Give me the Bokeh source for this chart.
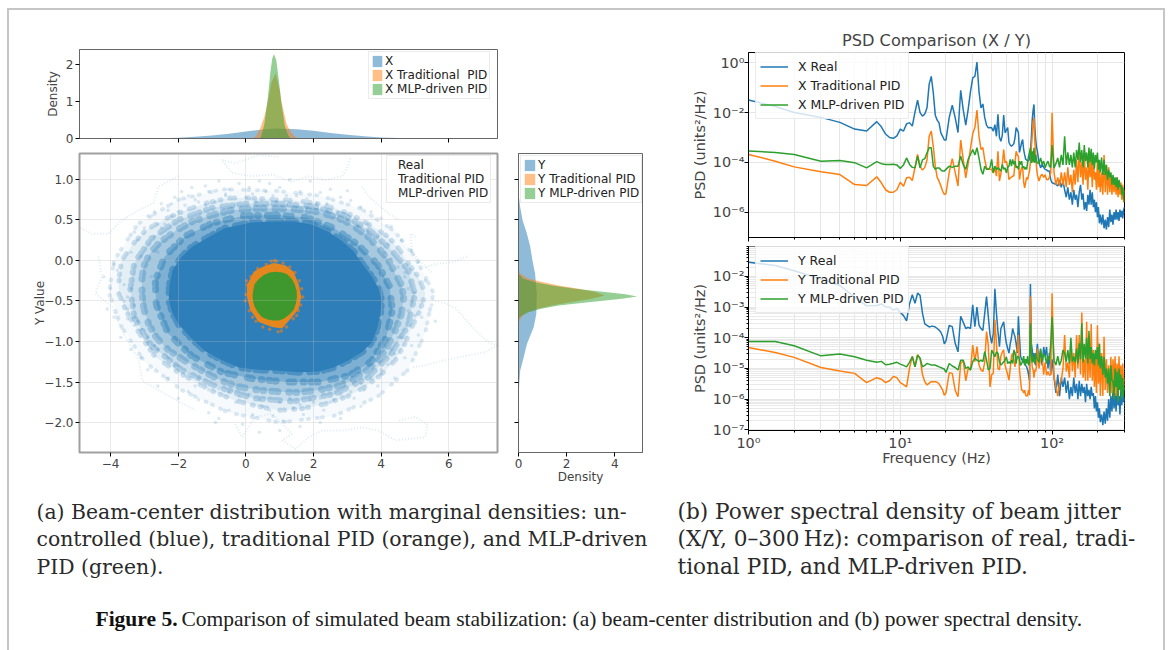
from bokeh.plotting import figure
from bokeh.layouts import column, row
from bokeh.models import (Range1d, FixedTicker, CustomJSTickFormatter, Legend, LegendItem)
from bokeh.core.properties import value
from bokeh.embed import file_html
from bokeh.resources import INLINE

BLUE, ORANGE, GREEN = "#1f77b4", "#ff7f0e", "#2ca02c"
FONT = "DejaVu Sans"

# ---------- marginal densities ----------
top_x_real = [-4, -3, -2.5, -2, -1.5, -1, -0.5, 0, 0.5, 0.9, 1.5, 2, 2.5, 3, 3.5, 4, 4.5, 5, 6]
top_d_real = [0, 0.002, 0.008, 0.02, 0.045, 0.08, 0.13, 0.19, 0.24, 0.27, 0.25, 0.21, 0.15, 0.1, 0.06, 0.03, 0.012, 0.004, 0]
top_x_trad = [0.19, 0.3, 0.42, 0.55, 0.65, 0.75, 0.88, 1.0, 1.05, 1.15, 1.2, 1.25, 1.35, 1.45, 1.57]
top_d_trad = [0, 0.06, 0.26, 0.6, 1.0, 1.5, 1.75, 1.3, 1.0, 0.6, 0.4, 0.3, 0.15, 0.05, 0]
top_x_mlp = [0.39, 0.45, 0.55, 0.65, 0.72, 0.78, 0.83, 0.9, 0.97, 1.05, 1.15, 1.25, 1.33]
top_d_mlp = [0, 0.05, 0.4, 1.1, 1.75, 2.15, 2.27, 2.1, 1.6, 0.95, 0.35, 0.08, 0]

right_y_real = [0.825, 0.66, 0.495, 0.33, 0.165, 0, -0.165, -0.41, -0.66, -0.825, -1.03, -1.2, -1.36, -1.53, -1.73]
right_d_real = [0, 0.07, 0.17, 0.35, 0.49, 0.58, 0.69, 0.76, 0.74, 0.63, 0.35, 0.21, 0.07, 0.03, 0]
right_y_trad = [-0.1, -0.165, -0.227, -0.268, -0.31, -0.35, -0.39, -0.432, -0.473, -0.515, -0.556, -0.6, -0.64, -0.7, -0.775]
right_d_trad = [0, 0.07, 0.42, 1.04, 1.67, 2.5, 3.19, 3.58, 3.05, 2.15, 1.39, 0.76, 0.35, 0.11, 0]
right_y_mlp = [-0.165, -0.227, -0.268, -0.31, -0.35, -0.39, -0.418, -0.445, -0.473, -0.515, -0.556, -0.6, -0.64, -0.68, -0.72]
right_d_mlp = [0, 0.2, 0.7, 1.39, 2.36, 3.6, 4.44, 4.93, 4.3, 2.9, 1.67, 0.9, 0.42, 0.14, 0]

# ---------- beam-centre cloud: density contours ----------
ring3_x = [0.9, 2.2, 3.4, 4.4, 5.0, 5.55, 5.3, 4.8, 3.9, 2.6, 1.0, -0.5, -1.9, -3.0, -3.7, -4.05, -3.9, -3.2, -2.0, -0.7]
ring3_y = [0.86, 0.8, 0.64, 0.36, 0.05, -0.4, -0.9, -1.35, -1.68, -1.92, -2.0, -1.88, -1.6, -1.25, -0.8, -0.4, 0.0, 0.45, 0.75, 0.88]
outer_x = [0.87, 1.5, 2.15, 2.75, 3.24, 3.75, 4.22, 4.55, 4.81, 5.1, 5.31, 5.15, 4.91, 4.7, 4.42, 4.0, 3.53, 3.0, 2.35, 1.65,
           0.97, 0.35, -0.31, -0.95, -1.59, -2.15, -2.68, -3.0, -3.27, -3.55, -3.76, -3.75, -3.67, -3.35, -2.97, -2.4, -1.79, -1.15, -0.5, 0.2]
outer_y = [0.75, 0.74, 0.70, 0.63, 0.54, 0.42, 0.29, 0.13, -0.04, -0.2, -0.41, -0.62, -0.82, -1.03, -1.23, -1.41, -1.56, -1.68, -1.77, -1.83,
           -1.85, -1.8, -1.73, -1.62, -1.48, -1.34, -1.19, -1.0, -0.82, -0.62, -0.41, -0.2, 0, 0.2, 0.37, 0.51, 0.62, 0.71, 0.77, 0.77]
ring2_x = [0.9, 1.9, 2.9, 3.7, 4.3, 4.8, 5.0, 4.8, 4.3, 3.6, 2.6, 1.4, 0.2, -0.9, -1.9, -2.8, -3.3, -3.42, -3.3, -2.8, -2.0, -1.0, 0.0]
ring2_y = [0.7, 0.67, 0.56, 0.36, 0.13, -0.12, -0.42, -0.8, -1.15, -1.45, -1.65, -1.74, -1.7, -1.55, -1.35, -1.05, -0.7, -0.35, -0.03, 0.27, 0.5, 0.65, 0.7]
mid_x = [0.87, 1.5, 2.15, 2.7, 3.14, 3.6, 3.93, 4.22, 4.42, 4.6, 4.67, 4.6, 4.42, 4.2, 3.93, 3.55, 3.14, 2.7, 2.15, 1.55,
         0.97, 0.4, -0.21, -0.75, -1.3, -1.8, -2.28, -2.65, -2.88, -3.02, -3.07, -3.08, -3.02, -2.85, -2.58, -2.1, -1.59, -1.0, -0.41, 0.25]
mid_y = [0.64, 0.63, 0.6, 0.53, 0.44, 0.3, 0.15, 0.0, -0.16, -0.3, -0.45, -0.66, -0.86, -1.05, -1.23, -1.36, -1.48, -1.55, -1.6, -1.63,
         -1.62, -1.6, -1.56, -1.48, -1.36, -1.24, -1.11, -0.95, -0.78, -0.6, -0.41, -0.24, -0.07, 0.08, 0.21, 0.36, 0.48, 0.56, 0.62, 0.64]
ring1_x = [0.9, 1.8, 2.6, 3.3, 3.9, 4.25, 4.33, 4.15, 3.7, 3.05, 2.2, 1.2, 0.2, -0.7, -1.6, -2.3, -2.65, -2.68, -2.4, -1.8, -1.0, -0.1]
ring1_y = [0.56, 0.53, 0.4, 0.2, -0.05, -0.32, -0.62, -0.95, -1.25, -1.42, -1.5, -1.5, -1.46, -1.38, -1.18, -0.9, -0.55, -0.25, 0.05, 0.3, 0.46, 0.55]
core_x = [0.87, 1.46, 1.96, 2.45, 2.84, 3.19, 3.44, 3.73, 3.93, 4.01, 3.98, 3.88, 3.73, 3.44, 3.04, 2.6, 2.15, 1.56, 0.97, 0.38,
          -0.21, -0.71, -1.2, -1.59, -1.99, -2.18, -2.28, -2.26, -2.17, -1.91, -1.59, -1.1, -0.61, 0.18]
core_y = [0.48, 0.48, 0.44, 0.35, 0.24, 0.11, -0.04, -0.2, -0.35, -0.49, -0.66, -0.84, -1.01, -1.13, -1.23, -1.32, -1.37, -1.38, -1.36, -1.35,
          -1.32, -1.23, -1.12, -0.97, -0.79, -0.64, -0.49, -0.31, -0.12, 0.04, 0.17, 0.29, 0.4, 0.47]
trad_x = [0.82, 1.17, 1.41, 1.56, 1.64, 1.56, 1.36, 1.07, 0.77, 0.38, 0.13, 0.03, 0.03, 0.23, 0.48]
trad_y = [-0.03, -0.06, -0.14, -0.29, -0.45, -0.6, -0.7, -0.84, -0.82, -0.76, -0.61, -0.45, -0.31, -0.14, -0.08]
mlp_x = [0.87, 1.08, 1.22, 1.36, 1.44, 1.5, 1.51, 1.48, 1.41, 1.28, 1.12, 0.98, 0.82, 0.64, 0.48, 0.35, 0.26, 0.21, 0.2, 0.22, 0.26, 0.38, 0.53, 0.7]
mlp_y = [-0.14, -0.15, -0.17, -0.23, -0.29, -0.37, -0.45, -0.53, -0.61, -0.67, -0.72, -0.74, -0.74, -0.73, -0.70, -0.64, -0.57, -0.5, -0.43, -0.36, -0.29, -0.23, -0.18, -0.15]

halo_x = [-3.6, -3.4, -3.9, -3.2, -3.0, -3.5, -2.9, -2.7, -3.3, -2.5,
          -2.3, -2.6, -2.1, -1.9, -2.2, -1.6, -1.4, -1.7, -1.1, -0.8,
          -1.2, -0.5, -0.2, -0.6, 0.1, 0.4, 0.2, 0.7, 1.0, 0.8,
          1.3, 1.6, 1.2, 1.9, 2.2, 1.8, 2.5, 2.8, 2.4, 3.1,
          3.4, 3.0, 3.7, 4.0, 3.6, 4.3, 4.6, 4.2, 4.9, 5.1,
          4.7, 5.3, 5.0, 5.5, 5.2, 4.8, 5.6, 5.1, 4.9, 4.5,
          4.7, 4.3, 4.0, 4.4, 3.8, 3.5, 3.9, 3.2, 2.9, 3.4,
          2.6, 2.3, 2.8, 2.0, 1.7, 2.2, 1.4, 1.1, 1.6, 0.8,
          0.5, 1.0, 0.2, -0.1, 0.4, -0.5, -0.8, -0.3, -1.1, -1.4,
          -0.9, -1.7, -2.0, -1.5, -2.3, -2.6, -2.1, -2.9, -3.1, -2.7,
          -3.4, -3.7, -3.3, -3.9, -4.1, -3.6, -4.0, -4.2, -3.8, -3.5,
          -3.0, -2.8, -3.2, -2.6, -3.4, -2.9, -3.1, -2.5, -3.3, -2.7,
          -2.4, -2.2, -2.0, -1.8, -1.5, -1.2, -0.9, -0.6, -0.3, 0.0,
          0.3, 0.6, 0.9, 1.2, 1.5, 1.8, 2.1, 2.4, 2.7, 3.0,
          3.3, 3.6, 3.9, 4.1, 4.3, 4.5, 4.7, 4.8, 4.9, 5.0,
          4.6, 4.4, 4.2, 4.0, 3.7, 3.4, 3.1, 2.8, 2.5, 2.2,
          1.9, 1.6, 1.3, 1.0, 0.7, 0.4, 0.1, -0.2, -0.5, -0.8,
          -1.1, -1.4, -1.7, -2.0, -2.3, -2.6, -2.9, -3.1, -3.3, -3.5]
halo_y = [-0.3, 0.1, -0.05, 0.25, 0.4, -0.6, 0.55, 0.6, 0.35, 0.7,
          0.62, 0.45, 0.78, 0.85, 0.7, 0.9, 0.72, 0.8, 0.85, 0.98,
          0.92, 0.88, 0.95, 0.8, 0.9, 0.98, 0.82, 0.95, 0.9, 0.8,
          1.0, 0.85, 0.8, 0.98, 0.84, 0.76, 0.88, 0.78, 0.7, 0.74,
          0.66, 0.86, 0.6, 0.52, 0.45, 0.42, 0.25, 0.2, 0.12, -0.02,
          -0.15, -0.25, -0.4, -0.55, -0.7, -0.62, -0.75, -0.92, -1.05, -0.95,
          -1.2, -1.1, -1.35, -1.45, -1.3, -1.6, -1.55, -1.7, -1.5, -1.8,
          -1.72, -1.85, -1.95, -1.75, -1.9, -2.0, -1.82, -1.98, -2.05, -1.92,
          -1.8, -2.1, -1.9, -2.02, -2.12, -1.85, -1.95, -1.75, -1.88, -1.72,
          -2.0, -1.62, -1.7, -1.55, -1.45, -1.55, -1.3, -1.35, -1.2, -1.05,
          -1.1, -0.95, -0.8, -0.7, -0.6, -0.5, -0.35, -0.2, -0.12, -0.72,
          -0.5, -0.2, -0.75, 0.1, -0.35, -0.95, 0.05, 0.4, -0.55, 0.3,
          0.45, 0.55, 0.6, 0.68, 0.75, 0.68, 0.72, 0.82, 0.7, 0.78,
          0.72, 0.85, 0.72, 0.68, 0.8, 0.66, 0.7, 0.62, 0.6, 0.5,
          0.42, 0.35, 0.3, 0.1, 0.02, -0.08, -0.2, -0.35, -0.5, -0.68,
          -0.95, -1.15, -1.28, -1.4, -1.45, -1.52, -1.62, -1.65, -1.75, -1.7,
          -1.72, -1.78, -1.7, -1.75, -1.85, -1.72, -1.65, -1.68, -1.62, -1.58,
          -1.6, -1.45, -1.4, -1.3, -1.2, -1.1, -1.0, -0.85, -0.7, -0.45]

trail_xs = [[5.51, 5.9, 6.2, 6.44, 6.78, 7.18, 7.43, 7.08, 6.59, 5.9, 5.31, 4.91],
            [5.31, 5.7, 6.1, 6.54],
            [5.01, 4.87, 4.92, 5.51],
            [3.09, 2.99, 2.84, 2.35, 1.86, 1.36, 0.77, 0.18, -0.41, -0.71, -0.31, 0.38, 0.97],
            [3.44, 3.63, 4.22, 4.52],
            [-1.99, -2.58, -2.73, -3.17, -3.67, -4.06, -4.55, -4.9],
            [-4.36, -4.26, -4.45, -3.96, -3.67, -3.17, -3.07, -2.38, -1.49],
            [-0.31, -0.11, 0.28, 0.77, 1.36, 1.07, 1.47, 1.86, 2.26, 2.84, 3.44, 3.93, 4.42, 5.31, 5.36, 5.01, 4.52]]
trail_ys = [[-0.49, -0.53, -0.59, -0.70, -0.86, -1.01, -1.05, -1.13, -1.17, -1.23, -1.29, -1.32],
            [-0.08, -0.04, -0.02, 0.05],
            [0.29, 0.33, 0.09, -0.16],
            [1.26, 1.14, 1.04, 0.99, 1.04, 0.97, 1.06, 1.04, 1.08, 1.24, 1.2, 1.30, 1.28],
            [0.91, 0.79, 0.58, 0.5],
            [1.04, 0.91, 0.71, 0.62, 0.5, 0.33, 0.33, 0.40],
            [0.05, -0.2, -0.41, -0.57, -0.86, -1.23, -1.48, -1.65, -1.85],
            [-2.02, -2.18, -1.93, -1.89, -2.14, -2.22, -2.33, -2.18, -2.1, -2.1, -2.06, -2.1, -2.22, -2.18, -2.02, -1.93, -1.98]]

speck_x = [0.05, 0.0, -0.02, 0.1, 0.2, 0.3, 0.5, 0.7, 0.95, 1.2, 1.4, 1.55, 1.62, 1.68, 1.65, 1.58, 1.45, 1.3, 1.1, 0.9, 0.6, 0.35, 0.15, 0.02, 0.85, 0.75, 1.05, 1.5]
speck_y = [-0.3, -0.42, -0.5, -0.62, -0.7, -0.75, -0.82, -0.85, -0.88, -0.82, -0.72, -0.62, -0.55, -0.45, -0.35, -0.25, -0.15, -0.08, -0.03, -0.01, -0.05, -0.1, -0.2, -0.25, 0.0, -0.01, -0.87, -0.68]

# ---------- power spectra (log10 of PSD) ----------
freq = [1, 1.5, 2, 3, 4, 5, 6, 7, 7.5, 8,
        8.5, 9, 9.5, 10, 10.5, 11, 11.5, 12, 12.5, 13,
        13.5, 14, 14.5, 15, 15.5, 16, 16.5, 17, 17.5, 18,
        18.5, 19, 19.5, 20, 21, 22, 23, 24, 25, 26,
        27, 28, 29, 30, 31, 32, 33, 34, 35, 36,
        37, 38, 39, 40, 41, 42, 43, 44, 45, 46,
        47, 48, 49, 50, 51, 52, 53, 54, 55, 56,
        57, 58, 59, 60, 61, 62, 63, 64, 65, 66,
        67, 68, 69, 70, 71, 72, 73, 74, 75, 76,
        77, 78, 79, 80, 82, 84, 86, 88, 90, 92,
        94, 96, 98, 100, 103, 106, 109, 112, 115, 118,
        121, 124, 127, 130, 133, 136, 139, 142, 145, 148,
        151, 154, 157, 160, 163, 166, 169, 172, 175, 178,
        181, 184, 187, 190, 193, 196, 199, 202, 205, 208,
        212, 216, 220, 224, 228, 232, 236, 240, 244, 248,
        252, 256, 260, 264, 268, 272, 276, 280, 284, 288,
        292, 296, 300]

x_real_log = [-1.49, -1.75, -1.99, -2.19, -2.39, -2.66, -2.74, -2.36, -2.57, -2.86,
              -3.0, -3.03, -2.93, -2.66, -2.74, -2.45, -2.4, -2.54, -1.98, -1.5,
              -2.0, -2.14, -2.05, -1.8, -0.85, -0.54, -1.2, -2.1, -2.3, -2.41,
              -2.81, -2.95, -3.1, -3.1, -2.2, -1.7, -2.2, -2.8, -1.1, -1.9,
              -2.5, -1.87, -1.15, -0.6, -0.54, 0.03, -1.14, -1.81, -1.65, -2.2,
              -2.5, -2.61, -2.6, -2.61, -2.74, -2.48, -2.95, -2.07, -3.0, -3.15,
              -2.9, -2.1, -2.81, -2.7, -2.6, -3.2, -3.3, -3.35, -3.3, -3.25,
              -3.0, -2.6, -2.7, -2.8, -3.6, -3.4, -3.2, -3.08, -3.5, -3.7,
              -3.88, -3.9, -3.95, -3.92, -3.88, -3.6, -3.0, -2.28, -1.9, -1.67,
              -2.6, -3.08, -3.4, -3.55, -4.0, -4.22, -4.08, -4.2, -4.28, -4.3,
              -4.35, -4.35, -4.7, -4.82, -4.85, -4.89, -4.95, -4.7, -5.0, -4.75,
              -5.1, -5.4, -5.0, -5.5, -5.2, -5.7, -5.1, -5.5, -5.3, -5.8,
              -5.2, -4.9, -5.5, -5.25, -5.9, -5.6, -5.95, -5.3, -5.7, -5.1,
              -5.7, -5.2, -5.8, -5.5, -6.0, -5.6, -6.2, -5.8, -6.45, -6.1,
              -6.5, -6.1, -6.65, -6.3, -6.7, -6.2, -6.6, -5.9, -6.4, -6.1,
              -6.5, -6.0, -6.3, -5.9, -6.3, -6.0, -6.35, -5.9, -6.2, -5.95,
              -6.25, -5.9, -5.8]
x_trad_log = [-3.68, -3.95, -4.18, -4.38, -4.49, -4.89, -4.93, -4.58, -4.82, -5.1,
              -5.2, -5.2, -5.1, -4.8, -4.96, -4.62, -4.6, -4.73, -4.2, -3.68,
              -4.15, -4.31, -4.2, -3.9, -2.95, -2.74, -3.35, -4.15, -4.6, -4.75,
              -4.95, -5.15, -5.29, -5.25, -4.4, -3.85, -4.4, -4.95, -3.1, -3.9,
              -4.62, -4.05, -3.45, -2.85, -2.6, -1.9, -2.95, -3.48, -3.4, -3.9,
              -4.22, -4.28, -4.28, -4.28, -4.42, -4.22, -4.55, -3.55, -4.75, -4.45,
              -4.1, -3.48, -4.02, -3.95, -4.2, -4.69, -4.62, -4.6, -4.55, -4.55,
              -4.0, -3.55, -3.7, -3.75, -4.69, -4.4, -4.2, -4.22, -4.8, -5.02,
              -4.8, -4.6, -4.69, -4.5, -4.35, -4.0, -3.4, -2.95, -2.4, -2.21,
              -3.2, -3.6, -4.2, -4.5, -4.75, -4.55, -4.48, -4.6, -4.5, -4.69,
              -4.7, -4.6, -4.4, -2.0, -4.4, -4.9, -4.6, -4.95, -4.4, -4.9,
              -4.4, -5.0, -4.2, -4.9, -4.5, -5.2, -4.3, -4.9, -3.9, -4.8,
              -3.5, -4.6, -4.0, -4.9, -3.7, -4.7, -4.2, -5.1, -3.8, -4.6,
              -3.9, -5.0, -3.7, -4.7, -4.4, -5.1, -3.9, -5.0, -4.3, -5.2,
              -4.4, -5.3, -3.7, -5.2, -4.1, -5.3, -4.2, -5.2, -4.5, -5.3,
              -4.6, -5.2, -4.7, -5.3, -4.6, -5.4, -4.9, -5.3, -4.8, -5.5,
              -4.9, -5.6, -5.1]
x_mlp_log = [-3.54, -3.6, -3.68, -3.95, -3.92, -4.01, -4.22, -3.97, -4.05, -4.08,
             -4.08, -4.07, -4.1, -4.24, -4.1, -3.82, -4.08, -4.2, -4.22, -3.75,
             -4.22, -3.9, -3.85, -3.61, -3.41, -3.41, -4.15, -4.28, -4.22, -4.22,
             -4.3, -4.35, -4.35, -4.28, -4.15, -4.2, -4.15, -4.15, -3.75, -4.1,
             -4.28, -3.88, -3.68, -3.48, -3.7, -3.41, -3.82, -4.28, -4.48, -4.15,
             -4.28, -4.28, -4.2, -3.88, -4.42, -4.15, -4.28, -4.22, -4.28, -4.35,
             -4.08, -4.28, -4.22, -4.42, -4.2, -4.15, -3.88, -4.15, -3.88, -4.08,
             -3.95, -4.22, -4.15, -4.28, -3.95, -4.08, -3.95, -4.22, -4.15, -4.28,
             -4.2, -4.28, -4.0, -3.75, -3.6, -3.41, -4.02, -3.55, -4.0, -3.41,
             -4.02, -3.7, -3.95, -4.02, -4.05, -3.82, -4.08, -3.95, -4.22, -4.05,
             -3.95, -4.15, -4.2, -3.3, -4.22, -4.05, -3.82, -4.2, -3.7, -4.1,
             -2.95, -4.1, -3.6, -4.1, -3.7, -4.2, -3.6, -4.2, -3.5, -3.9,
             -3.2, -4.0, -3.5, -4.2, -3.3, -3.95, -3.6, -4.2, -3.4, -4.0,
             -3.45, -4.1, -3.6, -4.25, -3.7, -4.0, -3.6, -4.3, -3.9, -4.4,
             -3.8, -4.5, -3.9, -4.5, -4.1, -4.7, -4.3, -4.6, -4.4, -4.9,
             -4.5, -4.9, -4.6, -5.0, -4.6, -5.1, -4.7, -5.0, -4.9, -5.3,
             -5.0, -5.4, -5.6]
y_real_log = [-1.54, -1.65, -1.82, -2.09, -2.3, -2.68, -2.96, -2.95, -2.9, -3.0,
              -3.0, -3.1, -3.05, -3.17, -3.28, -3.45, -2.9, -2.6, -2.88, -2.55,
              -2.62, -3.2, -3.55, -3.6, -3.65, -3.63, -3.63, -3.65, -3.7, -3.75,
              -3.82, -3.95, -4.2, -4.1, -3.6, -3.64, -4.18, -4.46, -3.3, -3.5,
              -3.7, -3.66, -3.7, -2.93, -3.64, -3.0, -3.59, -3.7, -3.76, -3.2,
              -2.66, -3.3, -3.9, -4.18, -3.86, -2.41, -3.2, -3.8, -4.29, -3.7,
              -3.59, -3.48, -3.9, -4.18, -4.35, -4.5, -4.2, -4.0, -3.7, -3.85,
              -3.97, -4.2, -4.5, -3.3, -4.0, -4.6, -4.7, -4.75, -4.8, -4.84,
              -4.9, -4.95, -5.05, -5.2, -5.4, -2.25, -4.18, -4.4, -4.7, -4.5,
              -4.8, -4.9, -4.5, -4.2, -4.8, -4.4, -4.9, -4.3, -4.6, -4.3,
              -5.0, -4.5, -5.2, -4.7, -5.3, -5.8, -5.2, -5.9, -5.3, -5.6,
              -5.3, -5.8, -5.4, -6.0, -5.6, -5.9, -5.3, -5.8, -5.5, -6.0,
              -5.4, -5.9, -5.5, -5.8, -5.6, -6.1, -5.5, -5.9, -5.7, -6.0,
              -5.6, -5.9, -5.8, -6.3, -5.9, -6.4, -6.1, -6.6, -6.3, -6.75,
              -6.5, -6.85, -6.4, -6.8, -6.3, -6.7, -6.0, -6.6, -5.9, -6.4,
              -5.7, -6.3, -5.8, -6.4, -5.6, -6.2, -5.9, -6.5, -5.7, -6.2,
              -5.6, -6.1, -5.9]
y_trad_log = [-4.32, -4.48, -4.64, -4.97, -5.08, -5.16, -5.46, -5.3, -5.35, -5.46,
              -5.4, -5.26, -5.3, -5.46, -5.53, -5.6, -5.0, -4.6, -4.95, -4.55,
              -4.67, -5.2, -5.43, -5.54, -5.48, -5.43, -5.43, -5.43, -5.45, -5.5,
              -5.6, -5.7, -5.87, -5.8, -5.14, -5.16, -5.71, -5.92, -4.83, -4.75,
              -5.4, -5.0, -5.05, -4.24, -4.78, -4.29, -4.89, -5.05, -5.1, -4.8,
              -3.8, -4.24, -5.6, -5.2, -5.16, -3.42, -4.18, -5.0, -5.05, -4.6,
              -4.46, -4.4, -4.9, -5.05, -5.2, -5.38, -5.0, -4.6, -4.51, -4.73,
              -4.95, -4.5, -4.4, -3.91, -5.05, -5.4, -5.71, -5.71, -5.8, -5.71,
              -5.87, -5.9, -5.87, -5.7, -5.87, -2.66, -4.51, -4.95, -5.05, -5.3,
              -5.05, -5.1, -4.9, -4.35, -5.0, -4.7, -4.6, -5.2, -4.8, -5.22,
              -5.1, -5.22, -5.2, -2.55, -5.27, -5.6, -5.9, -5.5, -5.38, -5.0,
              -3.91, -5.1, -4.8, -5.3, -4.13, -5.1, -4.5, -5.3, -3.91, -5.0,
              -3.91, -5.2, -3.18, -5.3, -4.7, -5.4, -3.48, -5.4, -4.3, -5.3,
              -3.55, -5.4, -4.4, -5.6, -4.6, -5.8, -3.59, -5.5, -4.2, -5.9,
              -4.5, -5.9, -3.97, -5.7, -4.7, -5.8, -4.9, -5.9, -4.62, -5.8,
              -4.7, -5.6, -4.6, -5.9, -4.84, -5.8, -4.6, -5.7, -4.9, -5.9,
              -4.84, -5.7, -5.3]
y_mlp_log = [-4.12, -4.12, -4.26, -4.59, -4.53, -4.62, -4.73, -4.8, -4.77, -4.88,
             -4.86, -4.83, -4.8, -4.86, -4.9, -4.95, -4.8, -4.62, -4.95, -4.57,
             -4.67, -4.95, -4.9, -4.84, -4.86, -4.89, -4.89, -4.89, -4.92, -4.95,
             -4.97, -5.0, -5.02, -5.13, -4.84, -4.92, -4.97, -5.05, -4.73, -4.73,
             -5.0, -4.95, -5.05, -4.78, -4.67, -4.73, -4.78, -4.73, -4.78, -4.45,
             -4.73, -5.05, -5.0, -4.4, -4.51, -4.62, -4.46, -4.51, -4.78, -4.89,
             -4.84, -4.78, -4.73, -4.62, -4.84, -4.78, -4.84, -4.73, -4.84, -4.4,
             -4.5, -4.84, -4.6, -4.62, -4.7, -4.9, -4.84, -4.75, -4.6, -4.9,
             -4.7, -4.84, -4.6, -4.9, -4.8, -3.53, -4.55, -4.8, -4.6, -4.78,
             -4.84, -4.5, -4.62, -4.7, -4.8, -4.35, -4.78, -4.5, -4.62, -4.84,
             -4.6, -4.73, -4.2, -3.32, -4.73, -4.89, -4.6, -4.9, -4.73, -4.4,
             -4.51, -4.78, -4.4, -4.84, -4.0, -4.78, -4.62, -4.8, -4.35, -4.84,
             -4.18, -4.7, -3.53, -4.8, -4.2, -4.68, -4.0, -4.84, -3.77, -4.7,
             -4.3, -4.84, -4.5, -4.9, -4.4, -4.7, -4.3, -4.9, -4.2, -5.0,
             -4.6, -5.2, -4.62, -5.3, -5.0, -5.5, -5.0, -5.9, -4.9, -5.4,
             -5.4, -6.0, -5.0, -5.6, -5.1, -6.1, -5.0, -5.7, -5.2, -6.0,
             -5.3, -5.9, -5.6]

# ---------- ticks and texts ----------
scatter_xticks = {-4: "\u22124", -2: "\u22122", 0: "0", 2: "2", 4: "4", 6: "6"}
scatter_yticks = {-2.0: "\u22122.0", -1.5: "\u22121.5", -1.0: "\u22121.0", -0.5: "\u22120.5",
                  0.0: "0.0", 0.5: "0.5", 1.0: "1.0"}
top_labels = ["X", "X Traditional  PID", "X MLP-driven PID"]
right_labels = ["Y", "Y Traditional PID", "Y MLP-driven PID"]
cloud_labels = ["Real", "Traditional PID", "MLP-driven PID"]
psdx_labels = ["X Real", "X Traditional PID", "X MLP-driven PID"]
psdy_labels = ["Y Real", "Y Traditional PID", "Y MLP-driven PID"]
xdec = [1, 10, 100]
xminor = [2, 3, 4, 5, 6, 7, 8, 9, 20, 30, 40, 50, 60, 70, 80, 90, 200, 300]
ytop = [1, 1e-2, 1e-4, 1e-6]
ybot = [1e-2, 1e-3, 1e-4, 1e-5, 1e-6, 1e-7]
ybot_minor = [m * d for d in [1e-7, 1e-6, 1e-5, 1e-4, 1e-3, 1e-2] for m in (2, 3, 4, 5, 6, 7, 8, 9)]

cap_a_lines = [
    "(a) Beam-center distribution with marginal densities: un-",
    "controlled (blue), traditional PID (orange), and MLP-driven",
    "PID (green).",
]
cap_b_lines = [
    "(b) Power spectral density of beam jitter",
    "(X/Y, 0\u2013300\u2009Hz): comparison of real, tradi-",
    "tional PID, and MLP-driven PID.",
]
cap_a_x = [36, 36, 36]
cap_b_x = [677, 677, 677]
cap_y = [511, 538, 566]
fig_bold = "Figure 5."
fig_text = "Comparison of simulated beam stabilization: (a) beam-center distribution and (b) power spectral density."

LOG_FMT = CustomJSTickFormatter(code="""
const sup = {"-":"\u207b","0":"\u2070","1":"\u00b9","2":"\u00b2","3":"\u00b3","4":"\u2074","5":"\u2075","6":"\u2076","7":"\u2077","8":"\u2078","9":"\u2079"};
const e = Math.round(Math.log10(tick));
return "10" + String(e).split("").map(c => sup[c]).join("");
""")


def blank():
    return CustomJSTickFormatter(code='return "";')


def base_style(p, size="12px", frame="#666666"):
    p.border_fill_color = None
    p.background_fill_color = "white"
    p.outline_line_color = frame
    for ax in p.axis:
        ax.axis_label_text_font = FONT
        ax.axis_label_text_font_style = "normal"
        ax.axis_label_text_font_size = size
        ax.major_label_text_font = FONT
        ax.major_label_text_font_size = size
        ax.major_label_standoff = 2
        ax.major_tick_in = 0
        ax.major_tick_out = 4
        ax.minor_tick_in = 0
        ax.minor_tick_out = 0
        ax.major_tick_line_color = "black"
        ax.axis_line_color = frame


def add_legend(p, renderers, labels, loc, glyph_w, glyph_h, row_h, standoff, pad, size):
    items = [LegendItem(label=value(t), renderers=[r]) for t, r in zip(labels, renderers)]
    lg = Legend(items=items, location=loc, orientation="vertical",
                label_text_font=FONT, label_text_font_size=size,
                label_text_color="#222222", label_height=row_h, label_standoff=standoff,
                glyph_width=glyph_w, glyph_height=glyph_h, spacing=0, padding=pad, margin=0,
                background_fill_alpha=0.8, background_fill_color="white",
                border_line_color="#d8d8d8", border_line_width=1)
    p.add_layout(lg, "center")


# ---------- top marginal ----------
ptop = figure(width=660, height=145, min_border_left=79, min_border_right=163,
              min_border_top=49, min_border_bottom=7, output_backend="svg", toolbar_location=None,
              x_range=Range1d(-4.92, 7.44), y_range=Range1d(0, 2.39), y_axis_label="Density")
ptop.grid.visible = False
t1 = ptop.varea(top_x_real, 0, top_d_real, fill_color=BLUE, fill_alpha=0.5)
t2 = ptop.varea(top_x_trad, 0, top_d_trad, fill_color=ORANGE, fill_alpha=0.5)
t3 = ptop.varea(top_x_mlp, 0, top_d_mlp, fill_color=GREEN, fill_alpha=0.5)
base_style(ptop)
ptop.xaxis.ticker = FixedTicker(ticks=list(scatter_xticks))
ptop.xaxis.formatter = blank()
ptop.xaxis.major_label_standoff = 0
ptop.yaxis.ticker = FixedTicker(ticks=[0, 1, 2])
ptop.yaxis.axis_label_standoff = 3
add_legend(ptop, [t1, t2, t3], top_labels, (289, 39), 12, 14, 14, 2, 2, "12px")

# ---------- cloud ----------
pc = figure(width=505, height=350, min_border_left=79, min_border_right=8,
            min_border_top=8, min_border_bottom=43, output_backend="svg", toolbar_location=None,
            x_range=ptop.x_range, y_range=Range1d(-2.37, 1.32),
            x_axis_label="X Value", y_axis_label="Y Value")
DOTS_A = "1 6 1 11 1 4 1 8"
DOTS_B = "1 9 1 3 1 13 1 5 1 7"
DOTS_C = "1 4 1 7 1 5 1 10 1 3"
for rx, ry, fa, w, la, dash in [(ring3_x, ring3_y, 0.035, 4, 0.16, DOTS_A),
                                (outer_x, outer_y, 0.09, 5, 0.22, DOTS_B),
                                (ring2_x, ring2_y, 0.13, 6, 0.26, DOTS_C),
                                (mid_x, mid_y, 0.2, 7, 0.3, DOTS_A),
                                (ring1_x, ring1_y, 0.3, 7, 0.4, DOTS_B)]:
    pc.patch(rx, ry, fill_color=BLUE, fill_alpha=fa, line_color=BLUE, line_alpha=la,
             line_width=w, line_dash=dash, line_cap="round", line_join="round")
pc.scatter(halo_x, halo_y, size=3.5, fill_color=BLUE, fill_alpha=0.16, line_color=None)
pc.multi_line(trail_xs, trail_ys, line_color=BLUE, line_alpha=0.15, line_width=2, line_dash="1 2")
pc.patch(core_x, core_y, fill_color="#2e7fb9", fill_alpha=1, line_color="#2e7fb9", line_alpha=0.6,
         line_width=7, line_dash=DOTS_C, line_cap="round", line_join="round")
pc.patch(trad_x, trad_y, fill_color="#e5861f", fill_alpha=1, line_color=None)
pc.scatter(speck_x, speck_y, size=3.5, fill_color=ORANGE, fill_alpha=0.55, line_color=None)
pc.patch(mlp_x, mlp_y, fill_color="#3f982d", fill_alpha=1, line_color=None)
base_style(pc, frame="#a0a0a0")
pc.outline_line_width = 2
pc.grid.level = "guide"
pc.grid.grid_line_color = "#bbbbbb"
pc.grid.grid_line_alpha = 0.3
pc.xaxis.ticker = FixedTicker(ticks=list(scatter_xticks))
pc.xaxis.major_label_overrides = scatter_xticks
pc.yaxis.ticker = FixedTicker(ticks=list(scatter_yticks))
pc.yaxis.major_label_overrides = scatter_yticks
pc.xaxis.axis_label_standoff = -1
pc.yaxis.axis_label_standoff = -6
ghosts = [pc.scatter([], [], size=1, fill_alpha=0.01, line_alpha=0, fill_color=c) for c in (BLUE, ORANGE, GREEN)]
add_legend(pc, ghosts, cloud_labels, (307, 249), 7, 14, 14, 2, 2, "12px")

# ---------- right marginal ----------
pr = figure(width=155, height=350, min_border_left=13, min_border_right=18,
            min_border_top=8, min_border_bottom=43, output_backend="svg", toolbar_location=None,
            x_range=Range1d(0, 5.15), y_range=pc.y_range, x_axis_label="Density")
pr.grid.visible = False
r1 = pr.harea(x1=0, x2=right_d_real, y=right_y_real, fill_color=BLUE, fill_alpha=0.5)
r2 = pr.harea(x1=0, x2=right_d_trad, y=right_y_trad, fill_color=ORANGE, fill_alpha=0.5)
r3 = pr.harea(x1=0, x2=right_d_mlp, y=right_y_mlp, fill_color=GREEN, fill_alpha=0.5)
base_style(pr)
pr.xaxis.ticker = FixedTicker(ticks=[0, 2, 4])
pr.yaxis.ticker = FixedTicker(ticks=list(scatter_yticks))
pr.yaxis.formatter = blank()
pr.yaxis.major_label_standoff = 0
pr.xaxis.axis_label_standoff = -1
add_legend(pr, [r1, r2, r3], right_labels, (2, 249), 13, 14, 14, 2, 2, "12px")


# ---------- PSD panels ----------
def psd_panel(height, top, bottom, yr, ylabel, real, trad, mlp, labels, loc, title=None, xlab=None):
    p = figure(width=508, height=height, min_border_left=88, min_border_right=44,
               min_border_top=top, min_border_bottom=bottom, output_backend="svg",
               toolbar_location=None, x_axis_type="log", y_axis_type="log",
               x_range=Range1d(1, 300), y_range=yr, y_axis_label=ylabel, x_axis_label=xlab, title=title)
    rs = []
    for vals, c in zip((real, trad, mlp), (BLUE, ORANGE, GREEN)):
        rs.append(p.line(freq, [10 ** v for v in vals], line_color=c, line_width=1.5))
    base_style(p, size="14.4px", frame="black")
    p.axis.axis_line_color = "black"
    p.axis.major_label_standoff = 0
    p.grid.grid_line_color = "#e6e6e6"
    p.xgrid.minor_grid_line_color = "#e6e6e6"
    p.xaxis.ticker = FixedTicker(ticks=xdec, minor_ticks=xminor)
    p.xaxis.minor_tick_out = 2
    add_legend(p, rs, labels, loc, 28, 19, 19, 10, 4, "12.5px")
    if title:
        p.title.text_font = FONT
        p.title.text_font_style = "normal"
        p.title.text_font_size = "16.2px"
        p.title.align = "center"
        p.title.standoff = 6
    return p


psdx = psd_panel(244, 52, 7, Range1d(10 ** -7.02, 10 ** 0.42), "PSD (units\u00b2/Hz)",
                 x_real_log, x_trad_log, x_mlp_log, psdx_labels, (7, 118),
                 title="PSD Comparison (X / Y)")
psdx.xaxis.formatter = blank()
psdx.yaxis.ticker = FixedTicker(ticks=ytop)
psdx.yaxis.formatter = LOG_FMT
psdx.yaxis.axis_label_standoff = 2

psdy = psd_panel(251, 2, 65, Range1d(10 ** -7.02, 10 ** -1.03), "PSD (units\u00b2/Hz)",
                 y_real_log, y_trad_log, y_mlp_log, psdy_labels, (7, 117), xlab="Frequency (Hz)")
psdy.xaxis.formatter = LOG_FMT
psdy.xaxis.axis_label_standoff = -4
psdy.yaxis.ticker = FixedTicker(ticks=ybot, minor_ticks=ybot_minor)
psdy.yaxis.formatter = LOG_FMT
psdy.yaxis.minor_tick_out = 2
psdy.ygrid.minor_grid_line_color = "#e9e9e9"
psdy.yaxis.axis_label_standoff = 2

# ---------- captions ----------
cap = figure(width=1168, height=155, min_border=0, output_backend="svg", toolbar_location=None,
             x_range=Range1d(0, 1168), y_range=Range1d(650, 495),
             x_axis_location=None, y_axis_location=None)
cap.grid.visible = False
cap.outline_line_color = None
cap.border_fill_color = None
cap.background_fill_color = None
cap.text(cap_a_x, cap_y, text=cap_a_lines, text_font=value("DejaVu Serif"),
         text_font_size="20.4px", text_color="#2a2a2a", text_baseline="alphabetic")
cap.text(cap_b_x, cap_y, text=cap_b_lines, text_font=value("DejaVu Serif"),
         text_font_size="21.6px", text_color="#2a2a2a", text_baseline="alphabetic")
cap.text([95], [618], text=[fig_bold], text_font=value("Liberation Serif"), text_font_style="bold",
         text_font_size="21.5px", text_color="#111111", text_baseline="alphabetic")
cap.text([181], [618], text=[fig_text], text_font=value("Liberation Serif"),
         text_font_size="21.5px", text_color="#222222", text_baseline="alphabetic")

left = column(ptop, row(pc, pr, spacing=0), spacing=0)
right = column(psdx, psdy, spacing=0)
GRAY = "linear-gradient(#c6c6c6,#c6c6c6)"
root = column(row(left, right, spacing=0), cap, spacing=0,
              styles={"background": f"{GRAY} 7px 8px / 2px 642px no-repeat, "
                                    f"{GRAY} 7px 8px / 1158px 2px no-repeat, "
                                    f"{GRAY} 1163px 8px / 2px 642px no-repeat"})

open("out.html", "w").write(file_html(root, INLINE))
